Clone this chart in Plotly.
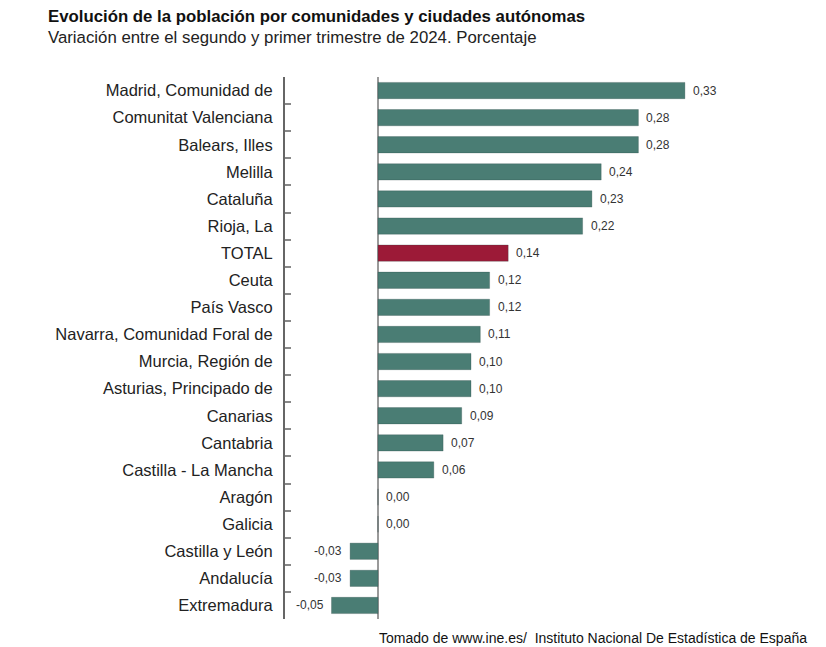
import plotly.graph_objects as go

categories = ["Madrid, Comunidad de", "Comunitat Valenciana", "Balears, Illes", "Melilla",
              "Cataluña", "Rioja, La", "TOTAL", "Ceuta", "País Vasco",
              "Navarra, Comunidad Foral de", "Murcia, Región de", "Asturias, Principado de",
              "Canarias", "Cantabria", "Castilla - La Mancha", "Aragón", "Galicia",
              "Castilla y León", "Andalucía", "Extremadura"]
values = [0.33, 0.28, 0.28, 0.24, 0.23, 0.22, 0.14, 0.12, 0.12, 0.11, 0.10, 0.10,
          0.09, 0.07, 0.06, 0.00, 0.00, -0.03, -0.03, -0.05]

TEAL = "#4a7d74"
RED = "#9c1a37"
colors = [RED if c == "TOTAL" else TEAL for c in categories]

OFF = 8  # page body margin
W, H = 826 - OFF, 647 - OFF
L, T = 285 - OFF, 77 - OFF
R = 66
B = H - (619 - OFF)
pw, ph = W - L - R, H - T - B
ZERO = 378 - OFF

fig = go.Figure(go.Bar(
    x=values, y=categories, orientation="h",
    marker=dict(color=colors, line=dict(color="rgba(40,70,64,0.35)", width=0.8)),
    width=0.6,
    hoverinfo="skip",
))

for c, v in zip(categories, values):
    fig.add_annotation(
        x=v, y=c, xref="x", yref="y",
        text=f"{v:.2f}".replace(".", ","),
        showarrow=False,
        xanchor="right" if v < 0 else "left",
        xshift=-6 if v < 0 else 6,
        font=dict(size=12, color="#333", family="Liberation Sans, Arial, sans-serif"),
    )

def px_x(p):
    return (p - OFF - L) / pw

def px_y(p):
    return 1 + (T - (p - OFF)) / ph

fig.add_annotation(xref="paper", yref="paper", x=px_x(46), y=px_y(17),
                   xanchor="left", yanchor="middle", showarrow=False,
                   text="<b>Evolución de la población por comunidades y ciudades autónomas</b>",
                   font=dict(size=16.8, color="#111"))
fig.add_annotation(xref="paper", yref="paper", x=px_x(46), y=px_y(38),
                   xanchor="left", yanchor="middle", showarrow=False,
                   text="Variación entre el segundo y primer trimestre de 2024. Porcentaje",
                   font=dict(size=16.8, color="#222"))
fig.add_annotation(xref="paper", yref="paper", x=px_x(809), y=px_y(638),
                   xanchor="right", yanchor="middle", showarrow=False,
                   text="Tomado de www.ine.es/&nbsp; Instituto Nacional De Estadística de España",
                   font=dict(size=14, color="#111"))

xmin = (L - ZERO) / 930
xmax = (W - R - ZERO) / 930

fig.update_layout(
    width=W, height=H,
    margin=dict(l=L, r=R, t=T, b=B, pad=0),
    paper_bgcolor="white", plot_bgcolor="white",
    font=dict(family="Liberation Sans, Arial, sans-serif", color="#222"),
    showlegend=False,
    xaxis=dict(range=[xmin, xmax], showgrid=False, showticklabels=False, ticks="",
               zeroline=True, zerolinecolor="#9a9a9a", zerolinewidth=2, showline=False,
               fixedrange=True),
    yaxis=dict(autorange="reversed", showline=True, linecolor="#666", linewidth=2,
               ticks="inside", tickson="boundaries", ticklen=6, tickcolor="#888",
               tickwidth=1.5, showgrid=False, ticklabelstandoff=7,
               tickfont=dict(size=16.5, color="#222"), fixedrange=True),
)

fig.write_html("out.html")
